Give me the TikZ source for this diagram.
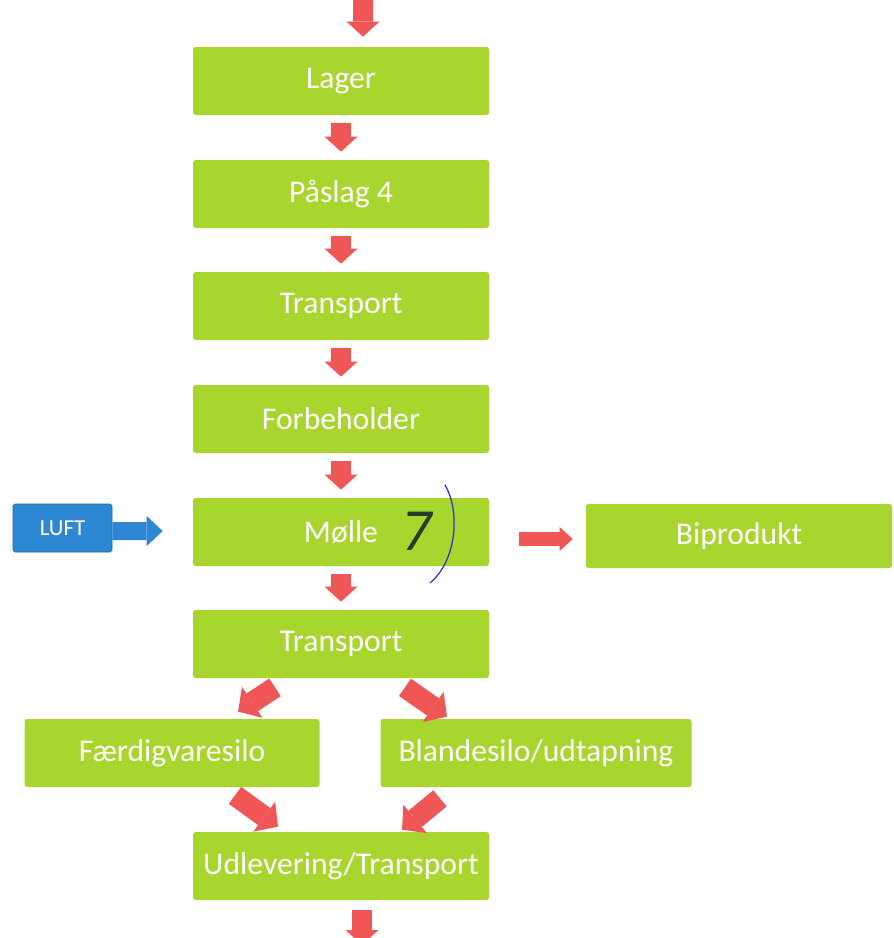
\documentclass[tikz,border=0pt]{standalone}
\usepackage{fontspec}
\setmainfont{Carlito}
\usetikzlibrary{arrows.meta}
\definecolor{boxgreen}{RGB}{168,214,46}
\definecolor{flowred}{RGB}{240,86,86}
\definecolor{luftblue}{RGB}{46,135,211}
\definecolor{luftedge}{RGB}{30,105,175}
\definecolor{handdark}{RGB}{40,60,40}
\definecolor{handblue}{RGB}{40,50,200}
\begin{document}
\begin{tikzpicture}[font=\fontsize{18}{21}\selectfont]
    \tikzstyle{process}=[rectangle,rounded corners=1.5pt,fill=boxgreen,text=white,minimum height=1.36cm,minimum width=5.92cm];
    \tikzstyle{input}=[rectangle,rounded corners=1pt,draw=luftedge,fill=luftblue,text=white,font=\fontsize{13}{15}\selectfont,minimum height=0.96cm,minimum width=1.98cm];
    \tikzstyle{flow}=[draw=flowred,line width=0.4cm,-{Triangle[length=0.3cm,width=0.66cm,line width=0pt]}];
    \tikzstyle{bigflow}=[draw=flowred,line width=0.42cm,-{Triangle[length=0.34cm,width=0.74cm,line width=0pt]}];
    \tikzstyle{sideflow}=[draw=flowred,line width=0.28cm,-{Triangle[length=0.26cm,width=0.48cm,line width=0pt]}];
    \tikzstyle{airflow}=[draw=luftblue,line width=0.36cm,-{Triangle[length=0.32cm,width=0.6cm,line width=0pt]}];

    \useasboundingbox (0,0) rectangle (17.86,-18.76);

    \node[process] (lager) at (6.82,-1.62) {Lager};
    \node[process] (paslag) at (6.82,-3.88) {Påslag 4};
    \node[process] (trans1) at (6.82,-6.12) {Transport};
    \node[process] (forbeh) at (6.82,-8.38) {Forbeholder};
    \node[process] (molle) at (6.82,-10.64) {Mølle};
    \node[process] (trans2) at (6.82,-12.88) {Transport};
    \node[process,minimum width=5.9cm] (fsilo) at (3.44,-15.06) {Færdigvaresilo};
    \node[process,minimum width=6.22cm] (bsilo) at (10.72,-15.06) {Blandesilo/udtapning};
    \node[process] (udlev) at (6.82,-17.32) {Udlevering/Transport};
    \node[process,minimum width=6.12cm,minimum height=1.28cm] (biprod) at (14.78,-10.72) {Biprodukt};
    \node[input] (luft) at (1.25,-10.56) {LUFT};

    \coordinate (ind) at (7.26,0);
    \coordinate (ud) at (7.24,-18.9);

    % main line
    \draw[flow] (ind) -- ([xshift=0.44cm,yshift=0.2cm]lager.north);
    \draw[flow,shorten <=0.16cm,shorten >=0.16cm] (lager) -- (paslag);
    \draw[flow,shorten <=0.16cm,shorten >=0.16cm] (paslag) -- (trans1);
    \draw[flow,shorten <=0.16cm,shorten >=0.16cm] (trans1) -- (forbeh);
    \draw[flow,shorten <=0.16cm,shorten >=0.16cm] (forbeh) -- (molle);
    \draw[flow,shorten <=0.16cm,shorten >=0.16cm] (molle) -- (trans2);
    \draw[flow] ([xshift=0.42cm,yshift=-0.2cm]udlev.south) -- (ud);

    % split and join
    \draw[bigflow] ([shift={(-1.32,-0.18)}]trans2.south) -- ([shift={(1.32,0.14)}]fsilo.north);
    \draw[bigflow] ([shift={(1.28,-0.18)}]trans2.south) -- ([shift={(-1.78,0.04)}]bsilo.north);
    \draw[bigflow] ([shift={(1.26,-0.16)}]fsilo.south) -- ([shift={(-1.26,0.1)}]udlev.north);
    \draw[bigflow] ([shift={(-1.92,-0.22)}]bsilo.south) -- ([shift={(1.22,0.04)}]udlev.north);

    % side streams
    \draw[sideflow] ([xshift=0.6cm,yshift=-0.14cm]molle.east) -- ([xshift=-0.26cm,yshift=-0.06cm]biprod.west);
    \draw[airflow] ([yshift=-0.06cm]luft.east) -- ([xshift=-0.6cm,yshift=0.02cm]molle.west);

    % handwritten note
    \node[text=handdark,font=\fontsize{34}{34}\selectfont\itshape] (seven) at (8.34,-10.62) {7};
    \draw[handblue,line width=0.7pt] (8.9,-9.7) .. controls (9.2,-10.2) and (9.15,-11.2) .. (8.6,-11.66);
\end{tikzpicture}
\end{document}
